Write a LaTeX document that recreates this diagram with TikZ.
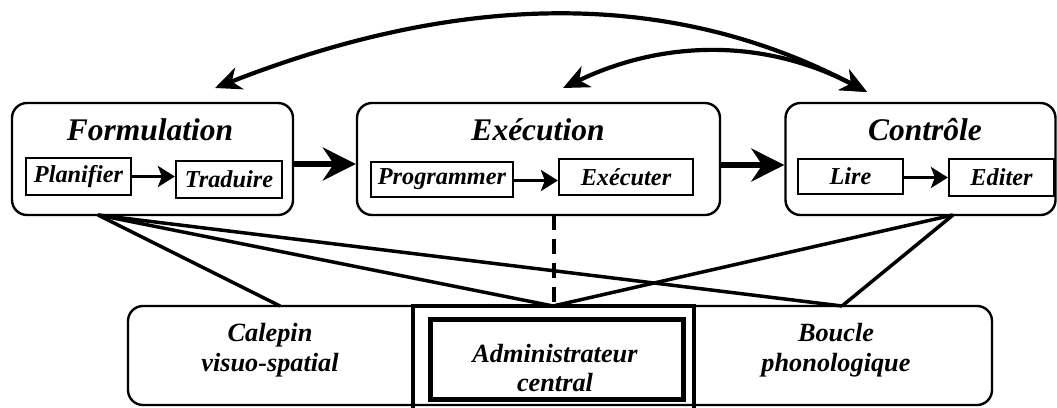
\documentclass[tikz,border=0pt]{standalone}
\usepackage{fontspec}
\setmainfont{Liberation Serif}
\usetikzlibrary{arrows.meta}
\begin{document}
\begin{tikzpicture}[x=1pt,y=-1pt,
  mainbox/.style={draw, line width=2.4pt, rounded corners=15pt, minimum height=112pt, inner sep=0pt},
  subbox/.style={draw, line width=2.2pt, inner sep=0pt, font=\fontsize{24.3}{27}\selectfont\bfseries\itshape},
  titletext/.style={font=\fontsize{31.5}{35}\selectfont\bfseries\itshape, anchor=base, inner sep=0pt},
  btext/.style={font=\fontsize{26.3}{29.5}\selectfont\bfseries\itshape, align=center, inner sep=0pt},
  bigarrow/.style={line width=5.5pt, -{Stealth[length=33pt,width=33pt,inset=11pt]}},
  subarrow/.style={line width=3.2pt, -{Stealth[length=17pt,width=21pt,inset=4pt]}},
  curvearrow/.style={line width=4.2pt, {Stealth[length=26pt,width=23pt,inset=8pt]}-{Stealth[length=26pt,width=23pt,inset=8pt]}},
  link/.style={line width=3.5pt},
  dashlink/.style={line width=3.5pt, dash pattern=on 15pt off 9pt}
]
\useasboundingbox (0,0) rectangle (1057,407);
\begin{scope}
\clip (0,0) rectangle (1057,407);

% main boxes
\node[mainbox, minimum width=281pt] (form) at (152.5,159) {};
\node[mainbox, minimum width=363pt] (exe) at (538.5,159) {};
\node[mainbox, minimum width=270pt] (ctrl) at (920.5,159) {};

\node[titletext] (formt) at (150,140) {Formulation};
\node[titletext] (exet) at (538,140) {Exécution};
\node[titletext] (ctrlt) at (925,140) {Contrôle};

% sub boxes
\node[subbox, minimum width=105pt, minimum height=37pt] (plan) at (78.5,176.5) {Planifier};
\node[subbox, minimum width=106pt, minimum height=37pt] (trad) at (229,179.5) {Traduire};
\node[subbox, minimum width=142pt, minimum height=35pt] (prog) at (442,179.5) {Programmer};
\node[subbox, minimum width=134pt, minimum height=36pt] (exer) at (626,177) {Exécuter};
\node[subbox, minimum width=105pt, minimum height=35pt] (lire) at (850.5,176.5) {Lire};
\node[subbox, minimum width=105pt, minimum height=37pt] (edit) at (1001.5,177.5) {Editer};

\draw[subarrow] (plan.east) -- (plan.east -| trad.west);
\draw[subarrow] ([yshift=-1pt]prog.east) -- ([yshift=-1pt]prog.east -| exer.west);
\draw[subarrow] ([yshift=-1pt]lire.east) -- ([yshift=-1pt]lire.east -| edit.west);

\draw[bigarrow] ([yshift=-5pt]form.east) -- ([yshift=-5pt]exe.west);
\draw[bigarrow] ([yshift=-6pt]exe.east) -- ([yshift=-6pt]ctrl.west);

% curved arrows
\coordinate (ctip) at (867,92);
\coordinate (ftip) at (215,88);
\coordinate (etip) at (563,88);
\draw[curvearrow] (ftip) .. controls (460,-8) and (670,-12) .. (ctip);
\draw[curvearrow] (etip) .. controls (667,38) and (768,40) .. (ctip);

% bottom box
\node[draw, line width=2.4pt, rounded corners=15pt, minimum width=864pt, minimum height=99pt, inner sep=0pt] (wm) at (560,355.5) {};
\node[draw, line width=3.2pt, minimum width=281pt, minimum height=110pt, inner sep=0pt] (admout) at (553.5,361) {};
\node[draw, line width=5pt, minimum width=253pt, minimum height=80pt, inner sep=0pt] (admin) at (556.5,359) {};

\node[btext] (calt) at (270,350) {Calepin\\visuo-spatial};
\node[btext] (bout) at (836,350) {Boucle\\phonologique};
\node[btext] (admt) at (555,368) {Administrateur\\central};

% links
\coordinate (fa) at (98,215);
\coordinate (ca) at (953,215);
\coordinate (ea) at (554,215);
\coordinate (calp) at (280,306);
\coordinate (admp) at (553,306);
\coordinate (boup) at (842,306);

\draw[link] (fa) -- (calp);
\draw[link] (fa) -- (admp);
\draw[link] (fa) -- (boup);
\draw[link] (ca) -- (admp);
\draw[link] (ca) -- (boup);
\draw[dashlink] (ea) -- (ea |- admp);
\end{scope}
\end{tikzpicture}
\end{document}
